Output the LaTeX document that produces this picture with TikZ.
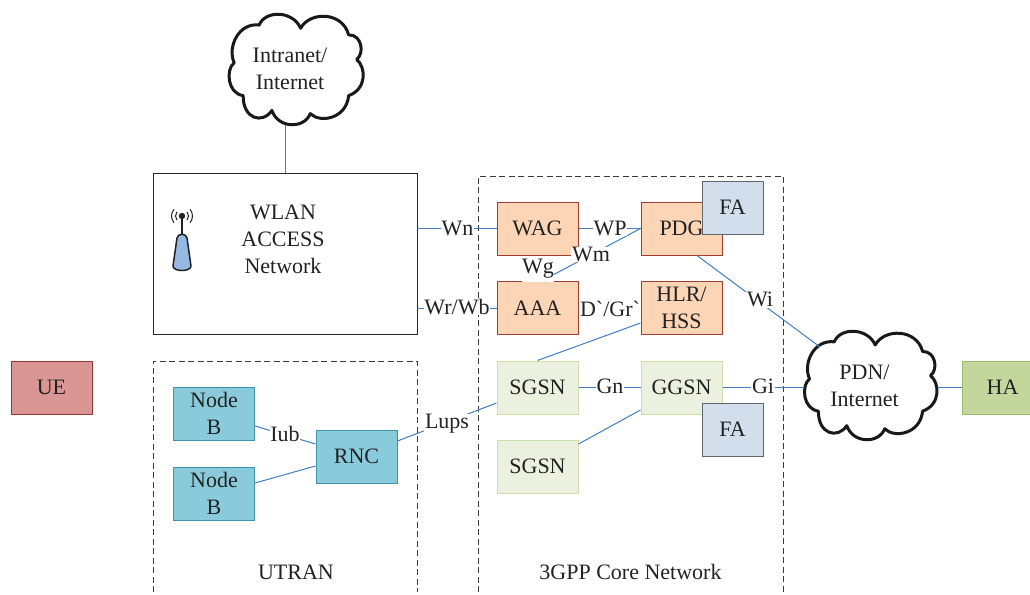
\documentclass[tikz,border=0pt]{standalone}
\usepackage{fontspec}
\setmainfont{Liberation Serif}
\newfontfamily\nomap{Liberation Serif}
\definecolor{ink}{HTML}{222222}
\definecolor{wire}{HTML}{3F7DC4}
\definecolor{dashc}{HTML}{3A3A3A}
\tikzset{
  boxbase/.style={draw,rectangle,line width=1pt,minimum width=81pt,minimum height=53pt,inner sep=0pt,align=center,text=ink,font=\fontsize{22}{27}\selectfont},
  orangebox/.style={boxbase,fill={rgb,255:red,251;green,213;blue,181},draw={rgb,255:red,160;green,60;blue,48}},
  greenbox/.style={boxbase,fill={rgb,255:red,235;green,241;blue,222},draw={rgb,255:red,205;green,221;blue,172}},
  tealbox/.style={boxbase,fill={rgb,255:red,138;green,203;blue,219},draw={rgb,255:red,60;green,148;blue,170}},
  fabox/.style={boxbase,minimum width=61pt,fill={rgb,255:red,210;green,222;blue,235},draw={rgb,255:red,95;green,102;blue,108}},
  uebox/.style={boxbase,fill={rgb,255:red,217;green,150;blue,148},draw={rgb,255:red,149;green,55;blue,53}},
  habox/.style={boxbase,fill={rgb,255:red,195;green,214;blue,155},draw={rgb,255:red,155;green,187;blue,105}},
  wlanbox/.style={draw=black!85,fill=white,rectangle,line width=0.8pt,minimum width=264pt,minimum height=161pt,inner sep=0pt},
  frame/.style={draw=dashc,line width=1pt,dash pattern=on 6pt off 3.5pt},
  conn/.style={draw=wire,line width=1pt},
  lab/.style={fill=white,inner sep=0.6pt,text=ink,font=\fontsize{22}{27}\selectfont},
  plain/.style={inner sep=0pt,align=center,text=ink,font=\fontsize{22}{27}\selectfont},
  cloudline/.style={draw=black!90,fill=white,line width=3pt,line join=round},
}
\newcommand{\cloudoutline}{(21.5,10.4) .. controls (26,-3) and (47,-3) .. (53.2,13.3)
  .. controls (60,-2) and (85,-2) .. (89.8,19.2)
  .. controls (100,19) and (102,36) .. (95.9,41.4)
  .. controls (103,48) and (104,68) .. (89.8,74)
  .. controls (88,95) and (68,99) .. (60.5,90.2)
  .. controls (56,104) and (36,104) .. (31.2,87.3)
  .. controls (24,100) and (9,95) .. (9.3,74)
  .. controls (-3,72) and (-4,50) .. (2.4,44.4)
  .. controls (-3,30) and (6,8) .. (21.5,10.4) -- cycle}
\begin{document}
\begin{tikzpicture}[x=1pt,y=-1pt]
\useasboundingbox (0,0) rectangle (1030,594);
\clip (0,0) rectangle (1030,594);
% frames
\draw[frame] (153,592) -- (153,361) -- (417,361) -- (417,592);
\draw[frame] (478,592) -- (478,176) -- (783,176) -- (783,592);
% clouds
\begin{scope}[shift={(231,13.5)},x=1.31pt,y=-1.11pt]
  \path[cloudline] \cloudoutline;
\end{scope}
\begin{scope}[shift={(806.4,330.5)},x=1.294pt,y=-1.09pt]
  \path[cloudline] \cloudoutline;
\end{scope}
\node[plain,minimum width=136pt,minimum height=112pt] (cloudA) at (290,69) {Intranet/\\Internet};
\node[plain,minimum width=135pt,minimum height=109pt] (cloudB) at (870.5,385.5) {};
\node[plain] (cloudBtext) at (864.5,385.5) {PDN/\\Internet};
% boxes
\node[wlanbox] (wlan) at (285,253.5) {};
\node[plain] (wlantext) at (283,239) {WLAN\\ACCESS\\Network};
\node[uebox] (ue) at (51.5,387.5) {UE};
\node[habox] (ha) at (1002.5,387.5) {HA};
\node[orangebox] (wag) at (537.5,228.5) {WAG};
\node[orangebox] (pdg) at (681.5,228.5) {PDG};
\node[fabox] (fa1) at (732.5,207.5) {FA};
\node[orangebox] (aaa) at (537.5,308) {AAA};
\node[orangebox] (hlr) at (681.5,308) {HLR/\\HSS};
\node[greenbox] (sgsnA) at (537.5,387.5) {SGSN};
\node[greenbox] (ggsn) at (681.5,387.5) {GGSN};
\node[fabox] (fa2) at (732.5,429.5) {FA};
\node[greenbox] (sgsnB) at (537.5,466.5) {SGSN};
\node[tealbox] (nbA) at (214,413.5) {Node\\B};
\node[tealbox] (nbB) at (214,493.5) {Node\\B};
\node[tealbox] (rnc) at (356.5,456.5) {RNC};
% antenna
\draw[line width=2pt,draw=ink] (182,216) -- (182,238);
\fill[ink] (182,216) circle (3.2pt);
\draw[line width=1.5pt,draw=ink,fill={rgb,255:red,150;green,185;blue,228},line join=round] (177,238) .. controls (178,233) and (186,233) .. (187,238) -- (191,266) .. controls (191,272) and (173,272) .. (173,266) -- cycle;
\draw[line width=1pt,draw=ink]
  ([shift={(140:6.5)}]182,216) arc (140:220:6.5)
  ([shift={(140:10.5)}]182,216) arc (140:220:10.5)
  ([shift={(-40:6.5)}]182,216) arc (-40:40:6.5)
  ([shift={(-40:10.5)}]182,216) arc (-40:40:10.5);
% connectors
\coordinate (wgend) at (553,275);
\coordinate (wiend) at (820,347);
\draw[conn] (wlan.north) -- (wlan.north |- cloudA.south);
\draw[conn] (wlan.east |- wag.west) -- (wag.west);
\draw[conn] (wlan.east |- aaa.west) -- (aaa.west);
\draw[conn] (wag.east) -- (pdg.west);
\draw[conn] (aaa.east) -- (hlr.west);
\draw[conn] (sgsnA.east) -- (ggsn.west);
\draw[conn] (ggsn.east) -- (cloudB.west |- ggsn.east);
\draw[conn] (cloudB.east |- ha.west) -- (ha.west);
\draw[conn] ([yshift=-12.5pt]nbA.east) -- ([yshift=12.5pt]rnc.west);
\draw[conn] ([yshift=10.5pt]nbB.east) -- ([yshift=-9.5pt]rnc.west);
\draw[conn] ([yshift=15.5pt]rnc.east) -- ([yshift=-15.5pt]sgsnA.west);
\draw[conn] (sgsnA.north) -- ([yshift=-15pt]hlr.west);
\draw[conn] ([yshift=22.5pt]sgsnB.east) -- ([yshift=-22.5pt]ggsn.west);
\draw[conn] ([xshift=15.5pt]pdg.south) -- (wiend);
\draw[conn] (pdg.west) -- (wgend);
% labels
\node[lab] (lWn) at (457.5,228) {Wn};
\node[lab] (lWP) at (610,228) {WP};
\node[lab] (lWm) at (591,254.5) {Wm};
\node[lab,inner ysep=3pt] (lWg) at (538,269) {Wg};
\node[lab] (lWr) at (457,307) {Wr/Wb};
\node[lab] (lDG) at (610,308.5) {\nomap D`/Gr`};
\node[lab] (lWi) at (760,299.5) {Wi};
\node[lab] (lIub) at (285,434) {Iub};
\node[lab] (lLups) at (447,424) {Lups};
\node[lab] (lGn) at (610,386.5) {Gn};
\node[lab] (lGi) at (763,386) {Gi};
\node[plain] (lUT) at (296,572.5) {UTRAN};
\node[plain] (l3G) at (630.5,572) {3GPP Core Network};
\end{tikzpicture}
\end{document}
